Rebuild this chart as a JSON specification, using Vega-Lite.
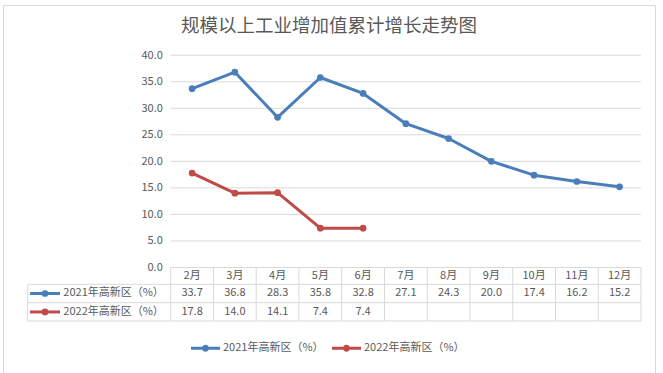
{
  "$schema": "https://vega.github.io/schema/vega-lite/v6.json",
  "autosize": "none",
  "width": 652,
  "height": 369,
  "padding": {"left": 3, "top": 5, "right": 8, "bottom": 0},
  "background": "white",
  "config": {
    "view": {"stroke": "#d9d9d9", "strokeWidth": 1},
    "font": "Noto Sans CJK SC"
  },
  "title": {
    "text": "规模以上工业增加值累计增长走势图",
    "fontSize": 18.5,
    "font": "Noto Sans CJK SC",
    "fontWeight": "normal",
    "color": "#595959",
    "anchor": "middle",
    "frame": "group",
    "orient": "top",
    "offset": -30
  },
  "datasets": {
    "vals": [
      {"month": "2月", "m": 2, "series": "2021年高新区（%）", "value": 33.7},
      {"month": "3月", "m": 3, "series": "2021年高新区（%）", "value": 36.8},
      {"month": "4月", "m": 4, "series": "2021年高新区（%）", "value": 28.3},
      {"month": "5月", "m": 5, "series": "2021年高新区（%）", "value": 35.8},
      {"month": "6月", "m": 6, "series": "2021年高新区（%）", "value": 32.8},
      {"month": "7月", "m": 7, "series": "2021年高新区（%）", "value": 27.1},
      {"month": "8月", "m": 8, "series": "2021年高新区（%）", "value": 24.3},
      {"month": "9月", "m": 9, "series": "2021年高新区（%）", "value": 20.0},
      {"month": "10月", "m": 10, "series": "2021年高新区（%）", "value": 17.4},
      {"month": "11月", "m": 11, "series": "2021年高新区（%）", "value": 16.2},
      {"month": "12月", "m": 12, "series": "2021年高新区（%）", "value": 15.2},
      {"month": "2月", "m": 2, "series": "2022年高新区（%）", "value": 17.8},
      {"month": "3月", "m": 3, "series": "2022年高新区（%）", "value": 14.0},
      {"month": "4月", "m": 4, "series": "2022年高新区（%）", "value": 14.1},
      {"month": "5月", "m": 5, "series": "2022年高新区（%）", "value": 7.4},
      {"month": "6月", "m": 6, "series": "2022年高新区（%）", "value": 7.4}
    ],
    "grid": [{"g": 0}, {"g": 5}, {"g": 10}, {"g": 15}, {"g": 20}, {"g": 25}, {"g": 30}, {"g": 35}, {"g": 40}]
  },
  "data": {"name": "vals"},
  "layer": [
    {
      "data": {"name": "grid"},
      "mark": {"type": "rule", "color": "#d9d9d9", "strokeWidth": 1},
      "encoding": {
        "y": {
          "field": "g", "type": "quantitative",
          "scale": {"domain": [-20.07, 49.46], "nice": false, "zero": false},
          "axis": {
            "values": [0, 5, 10, 15, 20, 25, 30, 35, 40],
            "format": ".1f", "offset": -167.7, "domain": false, "ticks": false, "tickSize": 0,
            "grid": false, "labelPadding": 8.4, "labelFontSize": 11, "labelColor": "#595959",
            "labelFont": "Noto Sans CJK SC", "title": null
          }
        },
        "x": {"datum": 1.5, "type": "quantitative", "scale": {"domain": [-2.423, 12.828], "nice": false, "zero": false}, "axis": null},
        "x2": {"datum": 12.5}
      }
    },
    {
      "transform": [
        {"filter": "datum.series == '2021年高新区（%）'"},
        {"bin": {"extent": [1.5, 12.5], "step": 1, "nice": false}, "field": "m", "as": "m0"}
      ],
      "mark": {"type": "rule", "color": "#d9d9d9", "strokeWidth": 1},
      "encoding": {
        "x": {"field": "m0", "type": "quantitative"},
        "y": {"datum": 0, "type": "quantitative"},
        "y2": {"datum": -10.08}
      }
    },
    {
      "transform": [
        {"filter": "datum.series == '2021年高新区（%）' && datum.m == 12"},
        {"bin": {"extent": [1.5, 12.5], "step": 1, "nice": false}, "field": "m", "as": "m0"}
      ],
      "mark": {"type": "rule", "color": "#d9d9d9", "strokeWidth": 1},
      "encoding": {
        "x": {"field": "m0_end", "type": "quantitative"},
        "y": {"datum": 0, "type": "quantitative"},
        "y2": {"datum": -10.08}
      }
    },
    {
      "data": {"values": [{}]},
      "mark": {"type": "rule", "color": "#d9d9d9", "strokeWidth": 1},
      "encoding": {
        "x": {"datum": -1.846, "type": "quantitative"},
        "x2": {"datum": 12.5},
        "y": {"datum": -3.165, "type": "quantitative"}
      }
    },
    {
      "data": {"values": [{}]},
      "mark": {"type": "rule", "color": "#d9d9d9", "strokeWidth": 1},
      "encoding": {
        "x": {"datum": -1.846, "type": "quantitative"},
        "x2": {"datum": 12.5},
        "y": {"datum": -6.63, "type": "quantitative"}
      }
    },
    {
      "data": {"values": [{}]},
      "mark": {"type": "rule", "color": "#d9d9d9", "strokeWidth": 1},
      "encoding": {
        "x": {"datum": -1.846, "type": "quantitative"},
        "x2": {"datum": 12.5},
        "y": {"datum": -10.08, "type": "quantitative"}
      }
    },
    {
      "data": {"values": [{}]},
      "mark": {"type": "rule", "color": "#d9d9d9", "strokeWidth": 1},
      "encoding": {
        "x": {"datum": -1.846, "type": "quantitative"},
        "y": {"datum": -3.165, "type": "quantitative"},
        "y2": {"datum": -10.08}
      }
    },
    {
      "mark": {"type": "line", "strokeWidth": 3, "strokeJoin": "round", "strokeCap": "round"},
      "encoding": {
        "x": {"field": "m", "type": "quantitative"},
        "y": {"field": "value", "type": "quantitative"},
        "color": {
          "field": "series", "type": "nominal",
          "scale": {"domain": ["2021年高新区（%）", "2022年高新区（%）"], "range": ["#4A7EBB", "#BE4B48"]},
          "legend": {
            "orient": "none", "direction": "horizontal", "legendX": 188, "legendY": 328.5,
            "title": null, "symbolType": "M-1,-0.1 L1,-0.1 L1,0.1 L-1,0.1 Z M-0.24,0 A0.24,0.24 0 1,1 0.24,0 A0.24,0.24 0 1,1 -0.24,0 Z",
            "symbolSize": 841, "symbolStrokeWidth": 0, "labelFontSize": 11, "labelColor": "#595959",
            "labelFont": "Noto Sans CJK SC", "labelOffset": 3, "columnPadding": 8,
            "encode": {"symbols": {"update": {"fill": {"scale": "color", "field": "value"}, "strokeWidth": {"value": 0}, "opacity": {"value": 1}}}}
          }
        }
      }
    },
    {
      "mark": {"type": "point", "filled": true, "size": 45, "opacity": 1},
      "encoding": {
        "x": {"field": "m", "type": "quantitative"},
        "y": {"field": "value", "type": "quantitative"},
        "color": {"field": "series", "type": "nominal"}
      }
    },
    {
      "transform": [{"filter": "datum.series == '2021年高新区（%）'"}],
      "mark": {"type": "text", "fontSize": 11, "color": "#595959", "align": "center", "baseline": "middle"},
      "encoding": {
        "x": {"field": "m", "type": "quantitative"},
        "y": {"datum": -1.51, "type": "quantitative"},
        "text": {"field": "month"}
      }
    },
    {
      "transform": [{"filter": "datum.series == '2021年高新区（%）'"}],
      "mark": {"type": "text", "fontSize": 11, "color": "#595959", "align": "center", "baseline": "middle"},
      "encoding": {
        "x": {"field": "m", "type": "quantitative"},
        "y": {"datum": -4.9, "type": "quantitative"},
        "text": {"field": "value", "format": ".1f"}
      }
    },
    {
      "transform": [{"filter": "datum.series == '2022年高新区（%）'"}],
      "mark": {"type": "text", "fontSize": 11, "color": "#595959", "align": "center", "baseline": "middle"},
      "encoding": {
        "x": {"field": "m", "type": "quantitative"},
        "y": {"datum": -8.38, "type": "quantitative"},
        "text": {"field": "value", "format": ".1f"}
      }
    },
    {
      "transform": [{"filter": "datum.series == '2021年高新区（%）' && datum.m == 2"}],
      "mark": {"type": "text", "fontSize": 11, "color": "#595959", "align": "left", "baseline": "middle"},
      "encoding": {
        "x": {"datum": -1.012, "type": "quantitative"},
        "y": {"datum": -4.9, "type": "quantitative"},
        "text": {"field": "series"}
      }
    },
    {
      "transform": [{"filter": "datum.series == '2022年高新区（%）' && datum.m == 2"}],
      "mark": {"type": "text", "fontSize": 11, "color": "#595959", "align": "left", "baseline": "middle"},
      "encoding": {
        "x": {"datum": -1.012, "type": "quantitative"},
        "y": {"datum": -8.38, "type": "quantitative"},
        "text": {"field": "series"}
      }
    },
    {
      "transform": [{"filter": "datum.series == '2021年高新区（%）' && datum.m == 2"}],
      "mark": {"type": "rule", "strokeWidth": 3},
      "encoding": {
        "x": {"datum": -1.79, "type": "quantitative"},
        "x2": {"datum": -1.09},
        "y": {"datum": -4.9, "type": "quantitative"},
        "color": {"field": "series", "type": "nominal"}
      }
    },
    {
      "transform": [{"filter": "datum.series == '2022年高新区（%）' && datum.m == 2"}],
      "mark": {"type": "rule", "strokeWidth": 3},
      "encoding": {
        "x": {"datum": -1.79, "type": "quantitative"},
        "x2": {"datum": -1.09},
        "y": {"datum": -8.38, "type": "quantitative"},
        "color": {"field": "series", "type": "nominal"}
      }
    },
    {
      "transform": [{"filter": "datum.series == '2021年高新区（%）' && datum.m == 2"}],
      "mark": {"type": "point", "filled": true, "size": 45, "opacity": 1},
      "encoding": {
        "x": {"datum": -1.44, "type": "quantitative"},
        "y": {"datum": -4.9, "type": "quantitative"},
        "color": {"field": "series", "type": "nominal"}
      }
    },
    {
      "transform": [{"filter": "datum.series == '2022年高新区（%）' && datum.m == 2"}],
      "mark": {"type": "point", "filled": true, "size": 45, "opacity": 1},
      "encoding": {
        "x": {"datum": -1.44, "type": "quantitative"},
        "y": {"datum": -8.38, "type": "quantitative"},
        "color": {"field": "series", "type": "nominal"}
      }
    }
  ]
}
